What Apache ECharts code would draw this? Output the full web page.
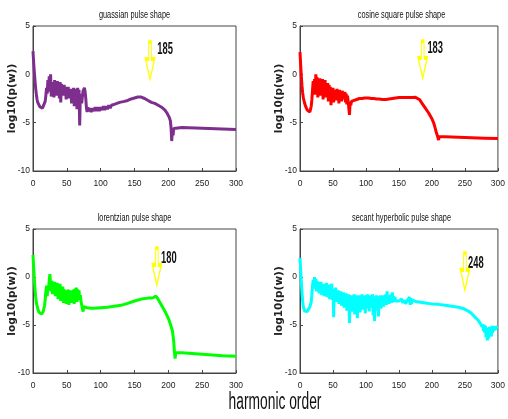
<!DOCTYPE html>
<html>
<head>
<meta charset="utf-8">
<script src="https://cdn.jsdelivr.net/npm/echarts@6/dist/echarts.min.js"></script>
<style>
html, body { margin: 0; padding: 0; background: #fff; }
#main { width: 508px; height: 419px; }
</style>
</head>
<body>
<div id="main"></div>
<script>
// panel titles, in order: top-left, top-right, bottom-left, bottom-right
var titles = ['guassian pulse shape', 'cosine square pulse shape', 'lorentzian pulse shape', 'secant hyperbolic pulse shape'];
var lineColors = ['#7E2F8E', '#FF0000', '#00FF00', '#00FFFF'];
var xTicks = [0, 50, 100, 150, 200, 250, 300];
var yTicks = [-10, -5, 0, 5];

// arrow annotations (harmonic, log10 level, label)
var arrowHarmonic = [173, 186, 183, 250];
var arrowLevel = [1.4, 1.5, 1.07, 0.55];
var arrowText = ['185', '183', '180', '248'];

// [harmonic order, log10(p(w))]
var gaussData = [
    [0, 2.4], [1, 1.2], [2, 0.2], [3, -0.7], [4, -1.5], [5, -2.1], [6, -2.6], [7, -2.9], [8, -3.1],
    [10, -3.35], [12, -3.5], [14, -3.5], [16, -3.3], [18, -2.8], [19, -2.2], [20, -1.4], [21, -2.0],
    [22, -0.6], [23, -1.8], [24, -0.2], [25, -1.5], [26, 0.0], [27, -2.3], [28, -0.8], [29, -1.9],
    [30, -1.0], [31, -2.4], [32, -0.6], [33, -1.7], [34, -1.0], [35, -2.2], [36, -0.7], [37, -1.6],
    [38, -0.9], [39, -2.5], [40, -0.8], [41, -2.9], [42, -1.0], [43, -1.8], [44, -1.2], [45, -2.2],
    [46, -1.1], [47, -1.9], [48, -1.3], [49, -2.6], [50, -1.4], [51, -2.0], [52, -1.3], [53, -2.5],
    [54, -1.6], [55, -2.2], [56, -1.5], [57, -3.0], [58, -1.6], [59, -2.1], [60, -1.4], [61, -3.3],
    [62, -1.5], [63, -2.0], [64, -1.5], [65, -3.6], [66, -1.4], [67, -2.2], [68, -1.6], [69, -5.3],
    [70, -2.0], [71, -2.6], [72, -3.0], [73, -2.3], [74, -1.7], [75, -1.5], [76, -1.4], [77, -1.8],
    [78, -2.5], [79, -3.5], [80, -3.9], [81, -3.4], [82, -3.8], [84, -3.5], [86, -3.9], [88, -3.5],
    [90, -3.8], [92, -3.4], [94, -3.8], [96, -3.4], [98, -3.8], [100, -3.4], [102, -3.7], [104, -3.3],
    [106, -3.7], [108, -3.3], [110, -3.6], [112, -3.2], [114, -3.5], [116, -3.2], [118, -3.4],
    [120, -3.1], [122, -3.3], [124, -3.0], [126, -3.2], [128, -2.9], [130, -3.0], [135, -2.8],
    [140, -2.7], [145, -2.55], [150, -2.45], [155, -2.35], [160, -2.35], [165, -2.5], [170, -2.7],
    [175, -2.9], [180, -3.0], [185, -3.2], [190, -3.4], [195, -3.7], [198, -4.0], [201, -4.4],
    [203, -4.8], [204, -5.5], [205, -6.9], [206, -5.8], [207, -6.3], [208, -5.6], [210, -5.5],
    [220, -5.5], [240, -5.55], [260, -5.6], [280, -5.65], [300, -5.7]
];

var cosData = [
    [0, 2.3], [1, 1.0], [2, -0.2], [3, -1.2], [4, -1.9], [5, -2.4], [7, -3.0], [9, -3.4], [11, -3.7],
    [13, -3.9], [15, -3.9], [16, -3.7], [17, -3.3], [18, -2.6], [19, -1.6], [20, -0.7], [21, -1.8],
    [22, -0.5], [23, -2.1], [24, 0.0], [25, -1.4], [26, -0.3], [27, -2.4], [28, -0.6], [29, -1.5],
    [30, -0.4], [31, -2.2], [32, -0.8], [33, -1.6], [34, -0.5], [35, -2.6], [36, -0.7], [37, -1.8],
    [38, -0.6], [39, -2.4], [40, -1.0], [41, -1.9], [42, -0.9], [43, -2.8], [44, -1.1], [45, -2.0],
    [46, -1.3], [47, -3.2], [48, -1.5], [49, -2.2], [50, -1.4], [51, -2.9], [52, -1.7], [53, -2.3],
    [54, -1.6], [55, -2.7], [56, -1.5], [57, -2.4], [58, -1.7], [59, -3.0], [60, -1.6], [61, -2.2],
    [62, -1.8], [63, -2.8], [64, -1.7], [65, -2.3], [66, -1.9], [67, -2.6], [68, -1.8], [69, -2.9],
    [70, -2.0], [71, -3.1], [72, -2.2], [73, -2.8], [74, -2.6], [75, -4.2], [76, -2.9], [77, -3.2],
    [78, -2.8], [80, -3.0], [82, -2.7], [84, -2.9], [86, -2.6], [88, -2.8], [90, -2.5], [92, -2.7],
    [94, -2.5], [96, -2.6], [98, -2.45], [100, -2.5], [104, -2.45], [108, -2.5], [112, -2.5],
    [116, -2.55], [120, -2.55], [125, -2.6], [130, -2.6], [135, -2.55], [140, -2.5], [145, -2.45],
    [150, -2.4], [155, -2.4], [160, -2.4], [165, -2.4], [170, -2.4], [175, -2.38], [178, -2.4],
    [181, -2.6], [185, -3.0], [190, -3.5], [195, -4.0], [200, -4.6], [203, -5.1], [205, -5.6],
    [207, -6.1], [209, -6.5], [210, -6.8], [211, -6.45], [213, -6.45], [220, -6.45], [240, -6.5],
    [260, -6.55], [280, -6.6], [300, -6.65]
];

var lorData = [
    [0, 2.3], [1, 1.0], [2, -0.3], [3, -1.3], [4, -2.1], [5, -2.7], [7, -3.3], [9, -3.7], [11, -3.9],
    [13, -3.85], [15, -3.6], [17, -3.0], [18, -2.4], [19, -1.5], [20, -0.9], [21, -2.0], [22, -1.0],
    [23, -1.4], [24, -0.3], [25, 0.3], [26, -0.8], [27, -1.5], [28, -0.4], [29, -1.8], [30, -0.6],
    [31, -1.3], [32, -0.5], [33, -2.0], [34, -0.7], [35, -1.4], [36, -0.6], [37, -2.3], [38, -0.9],
    [39, -1.6], [40, -0.7], [41, -2.5], [42, -1.2], [43, -1.8], [44, -1.0], [45, -2.7], [46, -1.3],
    [47, -2.0], [48, -1.4], [49, -2.8], [50, -1.5], [51, -2.2], [52, -1.3], [53, -2.9], [54, -1.6],
    [55, -2.3], [56, -1.4], [57, -2.7], [58, -1.5], [59, -2.4], [60, -1.3], [61, -2.8], [62, -1.2],
    [63, -2.0], [64, -1.1], [65, -2.6], [66, -1.3], [67, -1.9], [68, -1.4], [69, -2.4], [70, -1.9],
    [71, -2.6], [72, -2.9], [73, -3.3], [74, -3.6], [75, -3.1], [77, -3.25], [80, -3.2], [85, -3.25],
    [90, -3.25], [100, -3.2], [110, -3.15], [120, -3.05], [130, -2.95], [140, -2.75], [150, -2.5],
    [160, -2.3], [170, -2.2], [175, -2.2], [178, -2.15], [181, -2.0], [184, -2.2], [188, -2.7],
    [192, -3.2], [196, -3.7], [200, -4.3], [203, -4.9], [206, -5.6], [208, -6.7], [209, -7.8],
    [210, -8.5], [211, -7.9], [213, -7.85], [220, -7.9], [240, -8.0], [260, -8.1], [280, -8.2],
    [300, -8.25]
];

var sechData = [
    [0, 2.0], [1, 0.8], [2, -0.5], [3, -1.6], [4, -2.5], [5, -3.1], [7, -3.55], [9, -3.65], [11, -3.6],
    [13, -3.4], [15, -3.1], [17, -2.6], [18, -1.8], [19, -0.9], [20, -0.3], [21, -1.2], [22, 0.0],
    [23, -1.0], [24, -0.2], [25, -1.5], [26, -0.4], [27, -1.2], [28, -0.5], [29, -1.7], [30, -0.6],
    [31, -1.3], [32, -0.5], [33, -1.9], [34, -0.8], [35, -1.4], [36, -0.7], [37, -2.0], [38, -0.9],
    [39, -1.5], [40, -0.6], [41, -2.1], [42, -1.0], [43, -1.6], [44, -0.8], [45, -2.3], [46, -1.1],
    [47, -1.7], [48, -0.7], [49, -2.4], [50, -1.2], [51, -4.2], [52, -1.3], [53, -2.2], [54, -1.1],
    [55, -2.6], [56, -1.5], [57, -2.0], [58, -1.4], [59, -2.8], [60, -1.6], [61, -2.3], [62, -1.5],
    [63, -3.0], [64, -1.8], [65, -2.5], [66, -1.6], [67, -3.2], [68, -1.9], [69, -2.7], [70, -1.7],
    [71, -3.5], [72, -2.0], [73, -2.6], [74, -1.8], [75, -4.8], [76, -2.0], [77, -3.0], [78, -1.9],
    [79, -3.6], [80, -2.1], [81, -2.8], [82, -1.8], [83, -3.9], [84, -2.0], [85, -3.1], [86, -1.9],
    [87, -4.3], [88, -2.2], [89, -3.0], [90, -1.9], [91, -3.7], [92, -2.1], [93, -2.9], [94, -1.8],
    [95, -3.4], [96, -2.0], [97, -3.0], [98, -1.9], [99, -3.8], [100, -2.1], [101, -2.8], [102, -1.8],
    [103, -3.3], [104, -2.0], [105, -3.6], [106, -1.9], [107, -2.7], [108, -2.0], [109, -3.2],
    [110, -1.8], [111, -4.0], [112, -2.1], [113, -4.6], [114, -2.0], [115, -3.0], [116, -1.9],
    [117, -3.5], [118, -2.0], [119, -4.1], [120, -2.2], [121, -2.9], [122, -1.9], [123, -3.3],
    [124, -2.1], [125, -2.8], [126, -1.9], [127, -3.1], [128, -2.2], [129, -2.7], [130, -1.8],
    [131, -2.9], [132, -1.5], [133, -2.6], [134, -2.0], [135, -2.8], [136, -1.9], [137, -2.5],
    [138, -1.8], [139, -2.7], [140, -1.6], [141, -2.4], [142, -2.0], [143, -2.6], [144, -2.1],
    [145, -2.5], [146, -2.3], [148, -2.6], [150, -2.5], [152, -2.6], [154, -2.3], [156, -2.7],
    [158, -2.4], [160, -2.8], [162, -2.5], [164, -2.7], [166, -2.1], [167, -2.9], [168, -2.2],
    [169, -2.8], [170, -2.4], [172, -2.6], [175, -2.55], [180, -2.6], [190, -2.7], [200, -2.8],
    [210, -2.85], [220, -2.95], [230, -3.05], [240, -3.15], [248, -3.3], [255, -3.55], [260, -3.8],
    [265, -4.15], [270, -4.5], [273, -4.8], [275, -4.6], [276, -5.2], [277, -4.9], [278, -5.6],
    [279, -5.0], [280, -5.8], [281, -5.1], [282, -6.3], [283, -5.3], [284, -6.6], [285, -5.5],
    [286, -6.4], [287, -5.2], [288, -6.0], [289, -5.4], [290, -6.2], [291, -5.1], [292, -5.8],
    [293, -5.3], [294, -5.6], [295, -5.1], [296, -5.5], [297, -5.2], [298, -5.4], [300, -5.3]
];

var seriesData = [gaussData, cosData, lorData, sechData];

var SANS = "'Liberation Sans', Arial, sans-serif";

var chart = echarts.init(document.getElementById('main'), null, { renderer: 'canvas' });

var gridPos = [
    { left: 33, top: 26, width: 203, height: 145 },
    { left: 300, top: 26, width: 203, height: 145 },
    { left: 33, top: 229, width: 203, height: 144 },
    { left: 300, top: 229, width: 203, height: 144 }
];

var grids = [], xAxes = [], yAxes = [], series = [], graphics = [];
var arrowPath = 'path://M3.5,0 L6.5,0 L6.5,18 L10,18 L5,40 L0,18 L3.5,18 Z';

for (var i = 0; i < 4; i++) {
    grids.push(Object.assign({
        show: true,
        borderColor: '#444',
        borderWidth: 1,
        backgroundColor: '#fff'
    }, gridPos[i]));

    xAxes.push({
        gridIndex: i,
        type: 'value',
        min: xTicks[0],
        max: xTicks[xTicks.length - 1],
        interval: 50,
        axisLine: { show: true, onZero: false, lineStyle: { color: '#444' } },
        axisTick: { show: true, inside: true, length: 3, lineStyle: { color: '#444' } },
        axisLabel: { fontFamily: SANS, fontSize: 8.5, color: '#222', margin: 8 },
        splitLine: { show: false }
    });

    yAxes.push({
        gridIndex: i,
        type: 'value',
        min: yTicks[0],
        max: yTicks[yTicks.length - 1],
        interval: 5,
        name: 'log10(p(w))',
        nameLocation: 'middle',
        nameGap: 15,
        nameMoveOverlap: false,
        nameTextStyle: { fontFamily: "'DejaVu Sans', sans-serif", fontWeight: 'bold', fontSize: 10.5, color: '#222' },
        axisLine: { show: true, onZero: false, lineStyle: { color: '#444' } },
        axisTick: { show: true, inside: true, length: 3, lineStyle: { color: '#444' } },
        axisLabel: { fontFamily: SANS, fontSize: 8.5, color: '#222', margin: 3 },
        splitLine: { show: false }
    });

    // panel title, squeezed sideways like the source figure
    graphics.push({
        type: 'text',
        x: gridPos[i].left + gridPos[i].width / 2,
        y: gridPos[i].top - 11,
        scaleX: 0.64,
        silent: true,
        style: {
            text: titles[i],
            font: '11.5px ' + SANS,
            fill: '#111',
            align: 'center',
            verticalAlign: 'middle'
        }
    });

    series.push({
        type: 'line',
        xAxisIndex: i,
        yAxisIndex: i,
        data: seriesData[i],
        showSymbol: false,
        smooth: false,
        lineStyle: { color: lineColors[i], width: 3 },
        itemStyle: { color: lineColors[i] },
        silent: true,
        animation: false,
        markPoint: {
            silent: true,
            animation: false,
            symbol: arrowPath,
            symbolSize: [9, 37],
            itemStyle: { color: '#fff', borderColor: '#FFFF00', borderWidth: 2 },
            label: { show: false },
            data: [{ coord: [arrowHarmonic[i], arrowLevel[i]] }]
        }
    });
}

graphics.push({
    type: 'text',
    x: 275,
    y: 403,
    scaleX: 0.6,
    silent: true,
    style: {
        text: 'harmonic order',
        font: '23px ' + SANS,
        fill: '#111',
        align: 'center',
        verticalAlign: 'middle'
    }
});

chart.setOption({
    backgroundColor: '#fff',
    animation: false,
    grid: grids,
    xAxis: xAxes,
    yAxis: yAxes,
    series: series,
    graphic: graphics
});

// arrow numbers, placed next to each arrow through the panel's own scales
var labelShift = [[15, -11], [12.5, -12], [12, -8.5], [11, -8]];
var numberTexts = [];
for (var k = 0; k < 4; k++) {
    var p = chart.convertToPixel({ gridIndex: k }, [arrowHarmonic[k], arrowLevel[k]]);
    numberTexts.push({
        type: 'text',
        x: p[0] + labelShift[k][0],
        y: p[1] + labelShift[k][1],
        scaleX: 0.55,
        silent: true,
        style: {
            text: arrowText[k],
            font: 'bold 17px ' + SANS,
            fill: '#111',
            align: 'center',
            verticalAlign: 'middle'
        }
    });
}
chart.setOption({ graphic: graphics.concat(numberTexts) });
</script>
</body>
</html>
